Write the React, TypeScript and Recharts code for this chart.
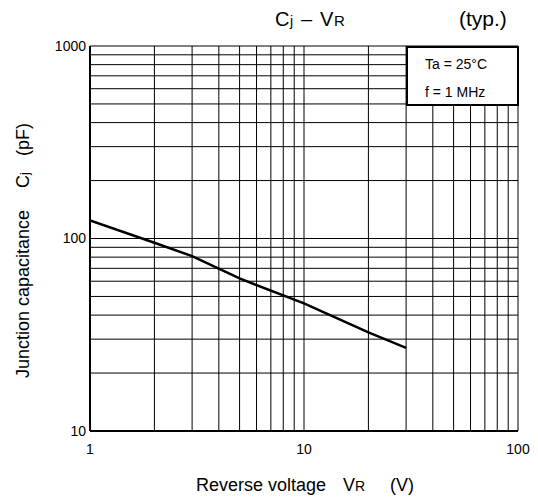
import { CartesianGrid, Line, LineChart, XAxis, YAxis } from 'recharts'

const voltage = [1, 2, 3, 5, 10, 20, 30]
const capacitance = [124, 95, 81, 62, 46, 32.5, 27]

const xTicks = [1, 2, 3, 4, 5, 6, 7, 8, 9, 10, 20, 30, 40, 50, 60, 70, 80, 90, 100]
const yTicks = [10, 20, 30, 40, 50, 60, 70, 80, 90, 100, 200, 300, 400, 500, 600, 700, 800, 900, 1000]
const xLabels = [1, 10, 100]
const yLabels = [10, 100, 1000]

const font = '"Liberation Sans", Arial, sans-serif'

const data = voltage.map((v, i) => ({ v, c: capacitance[i] }))

export default function App() {
  return (
    <div
      style={{
        position: 'absolute',
        left: 0,
        top: 0,
        width: 538,
        height: 499,
        background: '#fff',
        fontFamily: font,
      }}
    >
      <LineChart width={538} height={499} data={data} margin={{ top: 46, right: 20, bottom: 38, left: 50 }}>
        <CartesianGrid stroke="#000" strokeWidth={1} />
        <XAxis
          dataKey="v"
          type="number"
          scale="log"
          domain={[1, 100]}
          ticks={xTicks}
          interval={0}
          allowDataOverflow
          height={30}
          tickLine={false}
          tickSize={0}
          tickMargin={13}
          axisLine={{ stroke: '#000', strokeWidth: 2 }}
          tick={{ fill: '#000', fontSize: 14, fontFamily: font }}
          tickFormatter={(v: number) => (xLabels.includes(v) ? String(v) : '')}
        />
        <YAxis
          type="number"
          scale="log"
          domain={[10, 1000]}
          ticks={yTicks}
          interval={0}
          allowDataOverflow
          width={40}
          tickLine={false}
          tickSize={0}
          tickMargin={4}
          axisLine={{ stroke: '#000', strokeWidth: 2 }}
          tick={{ fill: '#000', fontSize: 14, fontFamily: font }}
          tickFormatter={(v: number) => (yLabels.includes(v) ? String(v) : '')}
        />
        <Line
          dataKey="c"
          stroke="#000"
          strokeWidth={2.5}
          dot={false}
          type="linear"
          isAnimationActive={false}
        />
      </LineChart>
      <svg
        width={538}
        height={499}
        style={{ position: 'absolute', left: 0, top: 0, pointerEvents: 'none' }}
        fontFamily={font}
      >
        {/* title */}
        <text y={26} fontSize={20} fill="#000">
          <tspan x={275}>C</tspan>
          <tspan x={290} fontSize={14}>j</tspan>
          <tspan x={301}>–</tspan>
          <tspan x={320}>V</tspan>
          <tspan x={334} fontSize={15}>R</tspan>
        </text>
        <text x={459} y={26} fontSize={21} fill="#000">
          (typ.)
        </text>

        <rect x={407} y={47} width={111} height={58} fill="#fff" stroke="#000" strokeWidth={2} />
        <text x={425} y={69} fontSize={14} fill="#000">
          Ta = 25°C
        </text>
        <text x={425} y={97} fontSize={14} fill="#000">
          f = 1 MHz
        </text>

        <text y={491} fontSize={18} fill="#000">
          <tspan x={196}>Reverse voltage</tspan>
          <tspan x={343}>V</tspan>
          <tspan fontSize={14}>R</tspan>
          <tspan x={390}>(V)</tspan>
        </text>

        <g transform="translate(29 378) rotate(-90)">
          <text y={0} fontSize={18} fill="#000">
            <tspan x={0}>Junction capacitance</tspan>
            <tspan x={190}>C</tspan>
            <tspan fontSize={13}>j</tspan>
            <tspan x={222}>(pF)</tspan>
          </text>
        </g>
      </svg>
    </div>
  )
}
